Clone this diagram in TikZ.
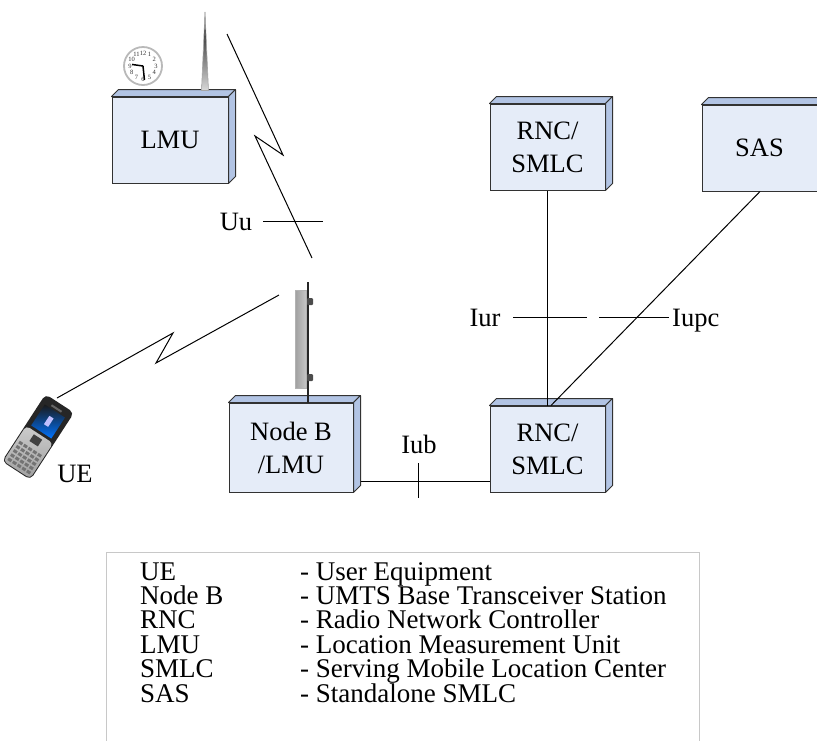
\documentclass[tikz,border=0pt]{standalone}
\usepackage{fontspec}
\setmainfont{Liberation Serif}
\usetikzlibrary{calc}

\definecolor{boxfront}{RGB}{229,236,248}
\definecolor{boxside}{RGB}{178,196,228}
\definecolor{legendline}{RGB}{200,200,200}
\definecolor{edge}{RGB}{50,50,50}

\tikzset{
  unitbox/.style={draw=edge, fill=boxfront, line width=1pt, inner sep=0pt,
    align=center, font=\fontsize{26.5}{33}\selectfont},
  face/.style={draw=edge, fill=boxside, line width=1pt, line join=round},
  link/.style={draw=black, line width=1pt},
  radio/.style={draw=black, line width=1pt, line join=miter},
  iflabel/.style={inner sep=0pt, anchor=base, font=\fontsize{26.5}{31}\selectfont},
  legendtext/.style={inner sep=0pt, anchor=base west, font=\fontsize{27}{25}\selectfont},
}

% top and right faces of a box-shaped unit
\newcommand{\unitfaces}[1]{%
  \path[face] (#1.north west) -- ++(7pt,7pt) -- ([shift={(7pt,7pt)}]#1.north east)
    -- (#1.north east) -- cycle;
  \path[face] (#1.north east) -- ([shift={(7pt,7pt)}]#1.north east)
    -- ([shift={(7pt,7pt)}]#1.south east) -- (#1.south east) -- cycle;
}

\begin{document}
\begin{tikzpicture}[x=1pt, y=-1pt]
\useasboundingbox (0,0) rectangle (817,740);
\clip (0,0) rectangle (817,740);

% ---- units ----
\node[unitbox, minimum width=116pt, minimum height=86pt] (lmu) at (170,140) {LMU};
\node[unitbox, minimum width=124pt, minimum height=89pt] (nodeb) at (291,447.5) {Node B\\/LMU};
\node[unitbox, minimum width=115pt, minimum height=86pt] (rncup) at (547.5,147) {RNC/\\SMLC};
\node[unitbox, minimum width=115pt, minimum height=86pt] (sas) at (759.5,148) {SAS};
\node[unitbox, minimum width=115pt, minimum height=86pt] (rnc) at (547.5,449) {RNC/\\SMLC};
\unitfaces{lmu}
\unitfaces{nodeb}
\unitfaces{rncup}
\unitfaces{sas}
\unitfaces{rnc}

% ---- LMU antenna ----
\shade[top color=black, bottom color=gray!30, draw=gray!70, line width=0.6pt]
  (201.5,90.5) -- (205,12) -- (208.5,90.5) -- cycle;

% ---- clock ----
\node[circle, draw=gray!55, line width=1.8pt, fill=white, minimum size=38pt, inner sep=0pt] (clock) at (143,66) {};
\foreach \n in {1,...,12}
  \node[inner sep=0pt, font=\fontsize{6.5}{6.5}\selectfont, text=black!80]
    at ($(clock)+({90-30*\n}:13pt)$) {\n};
\draw[line width=1.5pt, black] (clock.center) -- ++(172:11pt);
\draw[line width=1.5pt, black] (clock.center) -- ++(-84:14pt);

% ---- Node B antenna ----
\draw[line width=2.2pt, black!85] (308,282) -- (308,403);
\fill[black!70, rounded corners=1pt] (307,298) rectangle (313,305);
\fill[black!70, rounded corners=1pt] (307,374) rectangle (313,381);
\shade[left color=gray!75, right color=gray!45, draw=gray!60, line width=0.5pt]
  (295,290) rectangle (306,388);

% ---- handset ----
\begin{scope}[shift={(38,437)}, rotate=-33]
  \fill[black!85, rounded corners=5pt] (-17pt,-40pt) rectangle (17pt,40pt);
  \shade[top color=gray!40, bottom color=gray!75, rounded corners=4pt]
    (-16pt,-39pt) rectangle (16pt,3pt);
  \shade[top color=black!90, bottom color=blue!55!cyan] (-12pt,6pt) rectangle (12pt,31pt);
  \fill[white!75!blue] (-2pt,14pt) rectangle (3pt,24pt);
  \fill[black!60] (-6pt,33pt) rectangle (6pt,35pt);
  \fill[black!75] (-5pt,-8pt) rectangle (5pt,0pt);
  \foreach \r in {0,...,4}
    \foreach \c in {-2,...,2}
      \fill[black!55] ({\c*5.6pt-2pt},{-13pt-\r*5pt}) rectangle ++(4pt,-3pt);
\end{scope}
\node[iflabel] (uelabel) at (75,482) {UE};

% ---- radio links ----
\coordinate (uu1) at (227,34);
\coordinate (uu2) at (283,155);
\coordinate (uu3) at (255,136);
\coordinate (uu4) at (312,258);
\draw[radio] (uu1) -- (uu2) -- (uu3) -- (uu4);
\coordinate (uutickl) at (263,221);
\coordinate (uutickr) at (323,221);
\draw[link] (uutickl) -- (uutickr);
\node[iflabel] (uu) at (236,230) {Uu};

\coordinate (ue1) at (57,398);
\coordinate (ue2) at (173,333);
\coordinate (ue3) at (156,363);
\coordinate (ue4) at (279,295);
\draw[radio] (ue1) -- (ue2) -- (ue3) -- (ue4);

% ---- wired interfaces ----
\draw[link] ([shift={(7pt,11pt)}]nodeb.south east) -- ([yshift=11pt]rnc.south west);
\coordinate (iubtop) at (418,463);
\coordinate (iubbot) at (418,498);
\draw[link] (iubtop) -- (iubbot);
\node[iflabel] (iub) at (419,453) {Iub};

\draw[link] (rncup.south) -- (rnc.north);
\coordinate (iurl) at (513,317);
\coordinate (iurr) at (587,317);
\draw[link] (iurl) -- (iurr);
\node[iflabel] (iur) at (485,326) {Iur};

\draw[link] ([xshift=0.5pt]sas.south) -- ([xshift=3.5pt]rnc.north);
\coordinate (iupcl) at (599,317);
\coordinate (iupcr) at (669,317);
\draw[link] (iupcl) -- (iupcr);
\node[iflabel, anchor=base west] (iupc) at (672,326) {Iupc};

% ---- legend ----
\draw[legendline, line width=1pt] (106,745) -- (106,552) -- (699,552) -- (699,745);
\foreach \abbr/\full [count=\i] in {UE/User Equipment, Node B/UMTS Base Transceiver Station,
    RNC/Radio Network Controller, LMU/Location Measurement Unit,
    SMLC/Serving Mobile Location Center, SAS/Standalone SMLC} {
  \node[legendtext] (abbr\i) at (140,{580+24.4*(\i-1)}) {\abbr};
  \node[legendtext] (full\i) at (300,{580+24.4*(\i-1)}) {- \full};
}
\end{tikzpicture}
\end{document}
